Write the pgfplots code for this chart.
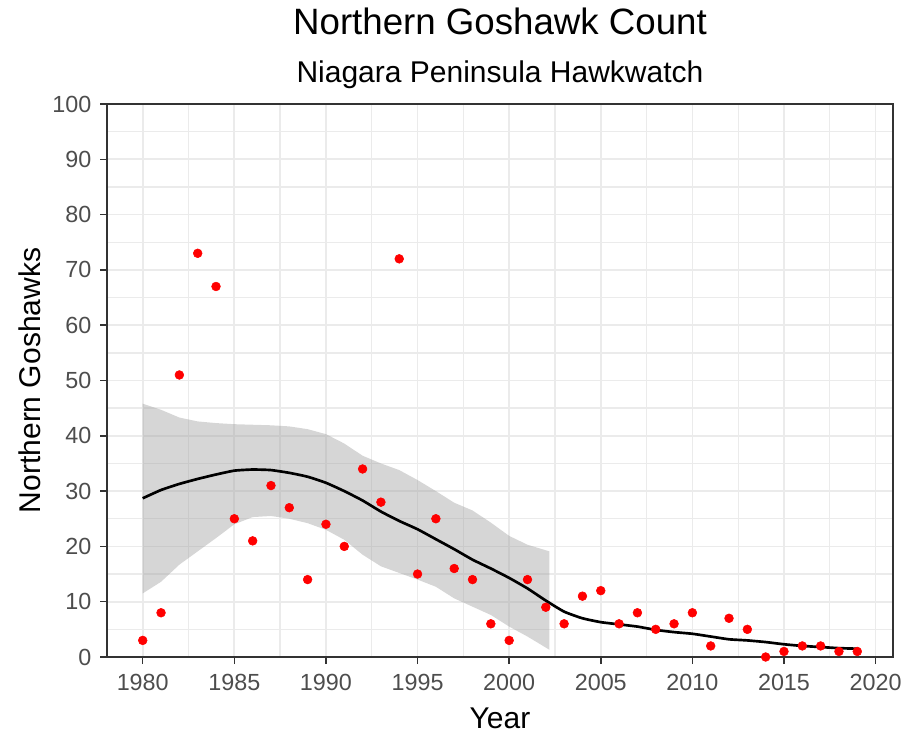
\documentclass[border=0pt]{standalone}
\usepackage{pgfplots}
\pgfplotsset{compat=1.18}
\usepackage{fontspec}
\setmainfont{Liberation Sans}
\definecolor{gridc}{HTML}{EBEBEB}
\definecolor{bord}{HTML}{333333}
\definecolor{tickc}{HTML}{4D4D4D}
\begin{document}
\begin{tikzpicture}
\useasboundingbox (-80.25pt,-59.25pt) rectangle (597.75pt,492.75pt);
\begin{axis}[
  scale only axis,
  width=589.5pt, height=414.75pt,
  xmin=1978.05, xmax=2020.95,
  ymin=0, ymax=100,
  xtick={1980,1985,...,2020},
  ytick={0,10,...,100},
  minor xtick={1977.5,1982.5,1987.5,1992.5,1997.5,2002.5,2007.5,2012.5,2017.5},
  minor ytick={5,15,...,95},
  grid=both,
  major grid style={color=gridc, line width=1.3pt},
  minor grid style={color=gridc, line width=1.0pt},
  axis line style={color=bord, line width=1.2pt},
  tick align=outside,
  major tick length=5.25pt,
  minor tick length=0pt,
  tick style={color=bord, line width=1.1pt},
  xtick pos=bottom, ytick pos=left,
  /pgf/number format/1000 sep={},
  /pgf/number format/assume math mode=true,
  ticklabel style={font=\fontsize{17.5}{20}\selectfont, text=tickc},
  xticklabel style={yshift=-4pt},
  yticklabel style={xshift=-3pt},
  clip=true,
]
% confidence ribbon
\addplot[draw=none, fill=black!40, fill opacity=0.4] coordinates {
(1980,45.8) (1981,44.7) (1982,43.3) (1983,42.6) (1984,42.3) (1985,42.1)
(1986,42.0) (1987,41.9) (1988,41.7) (1989,41.2) (1990,40.3) (1991,38.6)
(1992,36.4) (1993,35.0) (1994,33.8) (1995,32.0) (1996,30.0) (1997,27.9)
(1998,26.5) (1999,24.3) (2000,21.9) (2001,20.3) (2002.2,19.1)
(2002.2,1.3) (2001,3.7) (2000,5.5) (1999,7.6) (1998,9.1) (1997,10.6)
(1996,12.7) (1995,14.0) (1994,15.2) (1993,16.4) (1992,18.5) (1991,21.2)
(1990,23.0) (1989,24.2) (1988,25.0) (1987,25.5) (1986,25.3) (1985,24.0)
(1984,21.5) (1983,19.1) (1982,16.7) (1981,13.6) (1980,11.5)
} -- cycle;
% loess line
\addplot[black, line width=2pt, smooth, tension=0.3] coordinates {
(1980,28.7) (1981,30.2) (1982,31.3) (1983,32.2) (1984,33.0) (1985,33.7)
(1986,33.9) (1987,33.8) (1988,33.3) (1989,32.6) (1990,31.5) (1991,30.0)
(1992,28.3) (1993,26.3) (1994,24.6) (1995,23.1) (1996,21.3) (1997,19.5)
(1998,17.6) (1999,16.0) (2000,14.3) (2001,12.4) (2002,10.2) (2003,8.2)
(2004,7.0) (2005,6.3) (2006,5.9) (2007,5.5) (2008,4.9) (2009,4.5)
(2010,4.2) (2011,3.7) (2012,3.2) (2013,3.0) (2014,2.7) (2015,2.3)
(2016,2.0) (2017,1.8) (2018,1.6) (2019,1.5)
};
% observed counts
\addplot[only marks, mark=*, mark size=3.3pt, color=red, fill=red] coordinates {
(1980,3) (1981,8) (1982,51) (1983,73) (1984,67) (1985,25) (1986,21)
(1987,31) (1988,27) (1989,14) (1990,24) (1991,20) (1992,34) (1993,28)
(1994,72) (1995,15) (1996,25) (1997,16) (1998,14) (1999,6) (2000,3)
(2001,14) (2002,9) (2003,6) (2004,11) (2005,12) (2006,6) (2007,8)
(2008,5) (2009,6) (2010,8) (2011,2) (2012,7) (2013,5) (2014,0)
(2015,1) (2016,2) (2017,2) (2018,1) (2019,1)
};
\end{axis}
\node[anchor=base, font=\fontsize{27.5}{32}\selectfont] at (294.75pt,466.5pt) {Northern Goshawk Count};
\node[anchor=base, font=\fontsize{22.5}{26}\selectfont] at (294.75pt,430.5pt) {Niagara Peninsula Hawkwatch};
\node[anchor=base, font=\fontsize{22.5}{26}\selectfont] at (294.75pt,-53.25pt) {Year};
\node[anchor=base, rotate=90, font=\fontsize{22.5}{26}\selectfont] at (-50pt,207.4pt) {Northern Goshawks};
\end{tikzpicture}
\end{document}
